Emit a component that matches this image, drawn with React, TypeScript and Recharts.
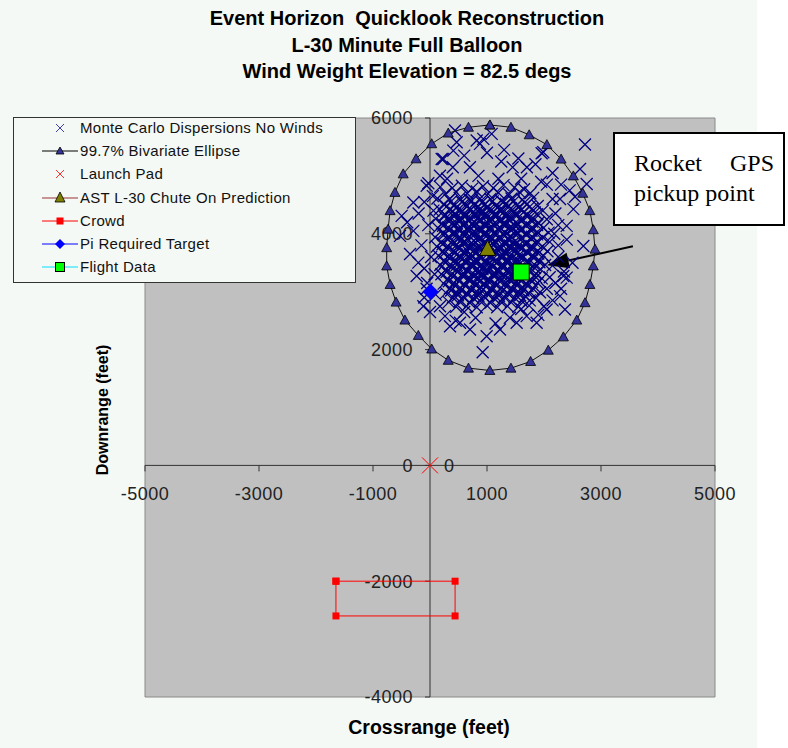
import React from "react";
import {
  ScatterChart,
  Scatter,
  XAxis,
  YAxis,
  CartesianGrid,
  ReferenceLine,
  ReferenceDot,
  ReferenceArea,
} from "recharts";

const titleLines = [
  "Event Horizon  Quicklook Reconstruction",
  "L-30 Minute Full Balloon",
  "Wind Weight Elevation = 82.5 degs",
];
const xTicks = [-5000, -3000, -1000, 1000, 3000, 5000];
const yTicks = [6000, 4000, 2000, 0, -2000, -4000];

// Monte Carlo impact points (feet)
const mcPoints: [number, number][] = [
  [180, 4810], [390, 4790], [560, 4830], [740, 4780], [930, 4820], [1110, 4790], [1290, 4840], [1480, 4800], [1650, 4770],
  [270, 4690], [460, 4720], [650, 4700], [820, 4730], [1020, 4690], [1200, 4710], [1390, 4680], [1570, 4720], [1760, 4700],
  [130, 4610], [340, 4590], [520, 4620], [700, 4580], [880, 4610], [1060, 4600], [1250, 4570], [1430, 4610], [1620, 4590], [1810, 4620],
  [240, 4510], [420, 4480], [600, 4520], [780, 4490], [960, 4510], [1150, 4480], [1330, 4520], [1520, 4490], [1700, 4510], [1890, 4480],
  [170, 4420], [350, 4430], [530, 4400], [690, 4440], [870, 4410], [1050, 4430], [1230, 4400], [1420, 4440], [1600, 4410], [1790, 4430], [1980, 4400],
  [260, 4330], [440, 4350], [620, 4320], [790, 4350], [970, 4330], [1150, 4350], [1330, 4320], [1510, 4350], [1700, 4330], [1880, 4340],
  [100, 4260], [330, 4270], [510, 4250], [700, 4280], [880, 4250], [1060, 4270], [1240, 4250], [1420, 4280], [1610, 4260], [1800, 4270], [2050, 4250],
  [210, 4180], [410, 4190], [600, 4170], [780, 4200], [960, 4170], [1140, 4190], [1320, 4180], [1510, 4200], [1700, 4170], [1900, 4190],
  [140, 4100], [320, 4110], [500, 4090], [680, 4120], [860, 4090], [1050, 4110], [1230, 4100], [1410, 4120], [1600, 4090], [1790, 4110], [1990, 4100],
  [240, 4020], [420, 4030], [600, 4010], [780, 4040], [960, 4010], [1140, 4030], [1320, 4020], [1500, 4040], [1690, 4010], [1880, 4030], [2080, 4020],
  [90, 3940], [330, 3950], [510, 3930], [690, 3960], [870, 3930], [1050, 3950], [1230, 3940], [1410, 3960], [1600, 3930], [1790, 3950], [1980, 3940],
  [200, 3860], [400, 3870], [590, 3850], [770, 3880], [950, 3850], [1130, 3870], [1310, 3860], [1500, 3880], [1690, 3850], [1880, 3870], [2100, 3860],
  [120, 3780], [310, 3790], [490, 3770], [680, 3800], [860, 3770], [1040, 3790], [1220, 3780], [1400, 3800], [1590, 3770], [1780, 3790], [1970, 3780],
  [230, 3700], [420, 3710], [600, 3690], [780, 3720], [960, 3690], [1140, 3710], [1320, 3700], [1510, 3720], [1700, 3690], [1890, 3710], [2060, 3700],
  [150, 3620], [340, 3630], [520, 3610], [700, 3640], [880, 3610], [1060, 3630], [1240, 3620], [1420, 3640], [1610, 3610], [1800, 3630], [1990, 3620],
  [250, 3540], [440, 3550], [620, 3530], [800, 3560], [980, 3530], [1160, 3550], [1340, 3540], [1530, 3560], [1720, 3530], [1910, 3550],
  [180, 3460], [360, 3470], [540, 3450], [720, 3480], [900, 3450], [1080, 3470], [1260, 3460], [1450, 3480], [1640, 3450], [1830, 3470], [2020, 3460],
  [280, 3380], [470, 3390], [650, 3370], [830, 3400], [1010, 3370], [1190, 3390], [1370, 3380], [1560, 3400], [1750, 3370], [1940, 3390],
  [200, 3300], [390, 3310], [570, 3290], [750, 3320], [930, 3290], [1110, 3310], [1290, 3300], [1480, 3320], [1670, 3290], [1860, 3310],
  [310, 3220], [490, 3230], [670, 3210], [850, 3240], [1030, 3210], [1210, 3230], [1390, 3220], [1580, 3240], [1770, 3210], [1960, 3230],
  [240, 3140], [420, 3150], [600, 3130], [780, 3160], [960, 3130], [1140, 3150], [1320, 3140], [1510, 3160], [1700, 3130], [1890, 3150],
  [350, 3060], [530, 3070], [710, 3050], [890, 3080], [1070, 3050], [1250, 3070], [1430, 3060], [1620, 3080], [1810, 3050],
  [280, 2980], [460, 2990], [640, 2970], [820, 3000], [1000, 2970], [1180, 2990], [1360, 2980], [1550, 3000], [1740, 2970], [1930, 2990],
  [400, 2900], [580, 2910], [760, 2890], [940, 2920], [1120, 2890], [1300, 2910], [1480, 2900], [1670, 2920], [1860, 2890],
  [330, 2820], [520, 2830], [700, 2810], [880, 2840], [1060, 2810], [1240, 2830], [1420, 2820], [1610, 2840],
  [460, 2740], [640, 2750], [820, 2730], [1000, 2760], [1180, 2730], [1360, 2750], [1550, 2740], [1740, 2760],
  // second, denser layer in the core
  [370, 4560], [560, 4550], [730, 4570], [910, 4540], [1100, 4560], [1280, 4540], [1470, 4560], [1660, 4540],
  [290, 4470], [470, 4460], [650, 4480], [830, 4450], [1010, 4470], [1190, 4460], [1370, 4480], [1560, 4460], [1750, 4470],
  [390, 4380], [570, 4390], [750, 4370], [930, 4390], [1110, 4380], [1290, 4370], [1470, 4390], [1650, 4380], [1840, 4370],
  [250, 4300], [420, 4300], [610, 4290], [790, 4310], [970, 4290], [1150, 4300], [1330, 4290], [1520, 4310], [1710, 4300],
  [340, 4220], [520, 4220], [690, 4230], [870, 4210], [1050, 4230], [1230, 4210], [1410, 4230], [1600, 4220], [1790, 4210],
  [230, 4140], [410, 4140], [590, 4150], [770, 4130], [950, 4150], [1130, 4140], [1320, 4150], [1500, 4130], [1690, 4140], [1880, 4150],
  [330, 4060], [510, 4060], [690, 4070], [870, 4050], [1050, 4070], [1230, 4050], [1410, 4070], [1590, 4060], [1780, 4050],
  [240, 3980], [420, 3990], [600, 3970], [780, 3990], [960, 3980], [1140, 3990], [1320, 3970], [1500, 3990], [1690, 3980], [1880, 3990],
  [310, 3900], [490, 3910], [680, 3890], [860, 3910], [1040, 3900], [1220, 3910], [1400, 3890], [1590, 3900], [1780, 3910],
  [220, 3820], [400, 3820], [580, 3830], [760, 3810], [940, 3830], [1120, 3810], [1310, 3830], [1490, 3820], [1680, 3810], [1870, 3830],
  [320, 3740], [510, 3740], [690, 3750], [870, 3730], [1050, 3750], [1230, 3730], [1410, 3750], [1600, 3740], [1790, 3730],
  [240, 3660], [430, 3670], [610, 3650], [790, 3670], [970, 3660], [1150, 3670], [1330, 3650], [1520, 3660], [1710, 3670], [1900, 3660],
  [340, 3580], [530, 3590], [710, 3570], [890, 3590], [1070, 3580], [1250, 3590], [1430, 3570], [1620, 3580], [1810, 3590],
  [270, 3500], [450, 3500], [630, 3510], [810, 3490], [990, 3510], [1170, 3490], [1350, 3510], [1540, 3500], [1730, 3490], [1920, 3510],
  [370, 3420], [560, 3420], [740, 3430], [920, 3410], [1100, 3430], [1280, 3410], [1460, 3430], [1650, 3420], [1840, 3410],
  [290, 3340], [480, 3340], [660, 3350], [840, 3330], [1020, 3350], [1200, 3330], [1380, 3350], [1570, 3340], [1760, 3330],
  [400, 3260], [580, 3260], [760, 3270], [940, 3250], [1120, 3270], [1300, 3250], [1480, 3270], [1670, 3260], [1860, 3250],
  [330, 3180], [510, 3180], [690, 3190], [870, 3170], [1050, 3190], [1230, 3170], [1410, 3190], [1600, 3180], [1790, 3170],
  [440, 3100], [620, 3100], [800, 3110], [980, 3090], [1160, 3110], [1340, 3090], [1520, 3110], [1710, 3100],
  [370, 3020], [550, 3020], [730, 3030], [910, 3010], [1090, 3030], [1270, 3010], [1450, 3030], [1640, 3020],
  [490, 2940], [670, 2950], [850, 2930], [1030, 2950], [1210, 2930], [1390, 2950], [1580, 2940],
  // extra crosses around the centre
  [560, 4260], [830, 4270], [1100, 4240], [1370, 4260], [640, 4080], [920, 4070], [1190, 4080], [1460, 4090],
  [560, 3910], [830, 3890], [1100, 3920], [1370, 3900], [640, 3720], [920, 3740], [1190, 3720], [1460, 3730],
  [560, 3560], [830, 3540], [1100, 3560], [1370, 3540], [640, 3380], [920, 3390], [1190, 3370], [1460, 3390],
  [720, 3210], [1000, 3200], [1270, 3220], [720, 4420], [1000, 4440], [1270, 4420],
  [470, 4180], [740, 4160], [1010, 4190], [1280, 4170], [1550, 4160], [470, 3990], [740, 4010], [1010, 3980],
  [1280, 4000], [1550, 4010], [470, 3810], [740, 3790], [1010, 3820], [1280, 3800], [1550, 3790], [470, 3640],
  [740, 3620], [1010, 3650], [1280, 3630], [1550, 3620], [470, 3460], [740, 3470], [1010, 3450], [1280, 3470],
  [1550, 3460], [600, 3300], [870, 3290], [1140, 3310], [1410, 3290], [600, 4340], [870, 4360], [1140, 4330],
  // sparse fringe
  [2719, 5541], [924, 1953], [1959, 5391], [2749, 4860], [2544, 4640], [2398, 4137], [2368, 2693], [2398, 3243],
  [439, 5783], [409, 5437], [234, 5293], [-29, 4872], [-292, 4542], [-497, 4310], [-292, 4050], [-234, 3270],
  [-526, 3964], [-205, 3502], [-117, 2750], [-58, 4830], [205, 5293], [175, 5004], [877, 5553], [935, 5640],
  [1082, 5726], [468, 5582], [819, 5610], [351, 2404], [526, 2463], [702, 2347], [994, 2231], [1228, 2347],
  [1520, 2463], [1871, 2463], [1696, 2578], [2047, 2693], [2281, 2924], [263, 2578], [175, 2750], [2515, 4426],
  [2690, 3790], [2339, 3270], [2632, 5120], [2281, 4600], [1988, 5409], [1300, 5450], [1550, 5300], [1700, 5150],
  [2150, 5050], [2300, 4850], [2200, 4350], [2400, 3900], [2250, 3600], [2500, 3500], [2300, 3050], [2150, 2850],
  [1900, 2600], [1400, 2550], [1150, 2450], [800, 2550], [600, 2650], [100, 2950], [-50, 3150], [-100, 3400],
  [-350, 3650], [-150, 3800], [-400, 4200], [-200, 4350], [-100, 4550], [50, 4650], [600, 5350], [1000, 5400],
  [1250, 5250], [1450, 5150], [400, 5150], [700, 5150], [1850, 5200], [2050, 4850], [2250, 4150], [2150, 3450],
  [2350, 3350], [2200, 3150], [2000, 2750], [1600, 2700], [450, 2500], [0, 2650], [-100, 2900], [2450, 4750],
  [-60, 3050], [80, 3300], [20, 3600], [-30, 4150], [60, 4400], [300, 4950], [850, 5000], [1200, 4950],
  [1600, 4950], [1950, 4900], [2150, 4600], [2180, 4000], [2250, 3800], [2100, 3250], [2050, 3050], [1750, 2850],
];

const ellipsePoints: [number, number][] = [
  [1050, 5880], [1420, 5840], [1740, 5710], [2050, 5540], [2300, 5290], [2515, 5000],
  [2680, 4700], [2805, 4400], [2865, 4070], [2895, 3735], [2865, 3445], [2805, 3125],
  [2720, 2810], [2575, 2510], [2340, 2220], [2075, 1990], [1765, 1795], [1420, 1680],
  [1050, 1640], [675, 1680], [320, 1815], [30, 2010], [-205, 2245], [-440, 2510],
  [-595, 2820], [-700, 3125], [-760, 3445], [-760, 3760], [-735, 4080], [-700, 4400],
  [-615, 4715], [-470, 5035], [-245, 5295], [30, 5555], [320, 5740], [675, 5840], [1050, 5880],
];
const launchPad: [number, number][] = [[0, 0]];
const astPrediction: [number, number][] = [[1010, 3730]];
const crowd: [number, number][] = [
  [-1650, -2000], [440, -2000], [440, -2600], [-1650, -2600], [-1650, -2000],
];
const piTarget: [number, number][] = [[10, 3000]];
const flightData: [number, number][] = [[1600, 3340]];
const arrowTail = { x: 3560, y: 3785 };
const arrowTip = { x: 2050, y: 3456 };

const rows = (pts: [number, number][]) => pts.map(([x, y]) => ({ x, y }));

const BG = "#f5f9f5";
const FONT = "'Liberation Sans', Arial, sans-serif";

const McCross = (p: any) => (
  <path
    d={`M${p.cx - 6},${p.cy - 6}L${p.cx + 6},${p.cy + 6}M${p.cx - 6},${p.cy + 6}L${p.cx + 6},${p.cy - 6}`}
    stroke="#000080"
    strokeWidth={1.3}
    fill="none"
  />
);
const SmallTri = (p: any) => (
  <polygon
    points={`${p.cx},${p.cy - 5} ${p.cx + 5},${p.cy + 4} ${p.cx - 5},${p.cy + 4}`}
    fill="#333399"
    stroke="#000"
    strokeWidth={0.8}
  />
);
const PadCross = (p: any) => (
  <g>
    <path
      d={`M${p.cx - 8},${p.cy - 8}L${p.cx + 8},${p.cy + 8}M${p.cx - 8},${p.cy + 8}L${p.cx + 8},${p.cy - 8}`}
      stroke="#ff0000"
      strokeWidth={1}
    />
    <text x={p.cx + 14} y={p.cy} dy="0.36em" fontSize={18} fontFamily={FONT} fill="#222" letterSpacing={0.5}>
      0
    </text>
  </g>
);
const BigTri = (p: any) => (
  <polygon
    points={`${p.cx},${p.cy - 9} ${p.cx + 8},${p.cy + 6} ${p.cx - 8},${p.cy + 6}`}
    fill="#808000"
    stroke="#000"
    strokeWidth={1}
  />
);
const RedSquare = (p: any) => (
  <rect x={p.cx - 3.5} y={p.cy - 3.5} width={7} height={7} fill="#ff0000" />
);
const Diamond = (p: any) => (
  <polygon
    points={`${p.cx},${p.cy - 8} ${p.cx + 8},${p.cy} ${p.cx},${p.cy + 8} ${p.cx - 8},${p.cy}`}
    fill="#0000ff"
  />
);
const GreenSquare = (p: any) => (
  <rect x={p.cx - 8} y={p.cy - 8} width={16} height={16} fill="#00ff00" stroke="#000" strokeWidth={1} />
);

const XTick = (label: number) => (p: any) => (
  <g>
    <line x1={p.cx} y1={p.cy} x2={p.cx} y2={p.cy + 6} stroke="#333" strokeWidth={1} />
    <text x={p.cx} y={p.cy + 28} dy="0.36em" textAnchor="middle" fontSize={18} fontFamily={FONT} fill="#222" letterSpacing={0.5}>
      {label}
    </text>
  </g>
);
const YTick = (label: number) => (p: any) => (
  <g>
    <line x1={p.cx - 5} y1={p.cy} x2={p.cx} y2={p.cy} stroke="#333" strokeWidth={1} />
    <text x={p.cx - 17} y={p.cy} dy="0.36em" textAnchor="end" fontSize={18} fontFamily={FONT} fill="#222" letterSpacing={0.5}>
      {label}
    </text>
  </g>
);
const Arrow = (p: any) => {
  const { x1, y1, x2, y2 } = p;
  // x1,y1 = tail ; x2,y2 = tip
  const dx = x2 - x1;
  const dy = y2 - y1;
  const len = Math.sqrt(dx * dx + dy * dy);
  const ux = dx / len;
  const uy = dy / len;
  const bx = x2 - ux * 22;
  const by = y2 - uy * 22;
  return (
    <g>
      <line x1={x1} y1={y1} x2={bx} y2={by} stroke="#000" strokeWidth={2} />
      <polygon
        points={`${x2},${y2} ${bx - uy * 8},${by + ux * 8} ${bx + uy * 8},${by - ux * 8}`}
        fill="#000"
      />
    </g>
  );
};

const legendItems = [
  { label: "Monte Carlo Dispersions No Winds", kind: "mc" },
  { label: "99.7% Bivariate Ellipse", kind: "ellipse" },
  { label: "Launch Pad", kind: "pad" },
  { label: "AST L-30 Chute On Prediction", kind: "ast" },
  { label: "Crowd", kind: "crowd" },
  { label: "Pi Required Target", kind: "pi" },
  { label: "Flight Data", kind: "flight" },
];

function LegendSymbol({ kind }: { kind: string }) {
  const c = 20;
  const m = 8;
  let line: string | null = null;
  let mark: React.ReactNode = null;
  if (kind === "mc") {
    mark = <path d={`M${c - 4},${m - 4}L${c + 4},${m + 4}M${c - 4},${m + 4}L${c + 4},${m - 4}`} stroke="#4040b0" strokeWidth={1} />;
  } else if (kind === "ellipse") {
    line = "#000";
    mark = <polygon points={`${c},${m - 4} ${c + 4},${m + 3} ${c - 4},${m + 3}`} fill="#333399" stroke="#000" strokeWidth={0.8} />;
  } else if (kind === "pad") {
    mark = <path d={`M${c - 4},${m - 4}L${c + 4},${m + 4}M${c - 4},${m + 4}L${c + 4},${m - 4}`} stroke="#ff3030" strokeWidth={1} />;
  } else if (kind === "ast") {
    line = "#993333";
    mark = <polygon points={`${c},${m - 6} ${c + 5},${m + 4} ${c - 5},${m + 4}`} fill="#808000" stroke="#000" strokeWidth={0.8} />;
  } else if (kind === "crowd") {
    line = "#ff0000";
    mark = <rect x={c - 3.5} y={m - 3.5} width={7} height={7} fill="#ff0000" />;
  } else if (kind === "pi") {
    line = "#0000ff";
    mark = <polygon points={`${c},${m - 5} ${c + 5},${m} ${c},${m + 5} ${c - 5},${m}`} fill="#0000ff" />;
  } else if (kind === "flight") {
    line = "#00e0ff";
    mark = <rect x={c - 4.5} y={m - 4.5} width={9} height={9} fill="#00ff00" stroke="#000" strokeWidth={1} />;
  }
  return (
    <svg width={40} height={16} style={{ position: "absolute", left: 26, top: -8 }}>
      {line && <line x1={2} y1={m} x2={38} y2={m} stroke={line} strokeWidth={1} />}
      {mark}
    </svg>
  );
}

export default function App() {
  return (
    <div style={{ position: "absolute", left: 0, top: 0, width: 788, height: 748, background: "#fff", overflow: "hidden" }}>
      <div style={{ position: "absolute", left: 0, top: 0, width: 757, height: 748, background: BG }} />

      {titleLines.map((t, i) => (
        <div
          key={t}
          style={{
            position: "absolute",
            left: 407,
            top: 18 + i * 26.5,
            transform: "translate(-50%, -50%)",
            whiteSpace: "pre",
            fontFamily: FONT,
            fontWeight: "bold",
            fontSize: 20,
            color: "#000",
          }}
        >
          {t}
        </div>
      ))}

      <div style={{ position: "absolute", left: 0, top: 0 }}>
        <ScatterChart width={788} height={748} margin={{ top: 118, left: 145, right: 73, bottom: 51 }}>
          <CartesianGrid fill="#c0c0c0" horizontal={false} vertical={false} />
          <XAxis type="number" dataKey="x" domain={[-5000, 5000]} allowDataOverflow hide />
          <YAxis type="number" dataKey="y" domain={[-4000, 6000]} allowDataOverflow hide />
          <ReferenceArea x1={-5000} x2={5000} y1={-4000} y2={6000} fill="none" fillOpacity={0} stroke="#8a8a8a" strokeWidth={1} />
          <ReferenceLine x={0} stroke="#333" strokeWidth={1} />
          <ReferenceLine y={0} stroke="#333" strokeWidth={1} />
          {xTicks.map((t) => (
            <ReferenceDot key={"x" + t} x={t} y={0} r={0} shape={XTick(t)} />
          ))}
          {yTicks.map((t) => (
            <ReferenceDot key={"y" + t} x={0} y={t} r={0} shape={YTick(t)} />
          ))}
          <Scatter name="Monte Carlo Dispersions No Winds" data={rows(mcPoints)} shape={McCross} isAnimationActive={false} />
          <Scatter
            name="99.7% Bivariate Ellipse"
            data={rows(ellipsePoints)}
            line={{ stroke: "#111", strokeWidth: 1 }}
            lineType="joint"
            shape={SmallTri}
            isAnimationActive={false}
          />
          <Scatter name="Launch Pad" data={rows(launchPad)} shape={PadCross} isAnimationActive={false} />
          <Scatter name="AST L-30 Chute On Prediction" data={rows(astPrediction)} shape={BigTri} isAnimationActive={false} />
          <Scatter
            name="Crowd"
            data={rows(crowd)}
            line={{ stroke: "#ff0000", strokeWidth: 1 }}
            lineType="joint"
            shape={RedSquare}
            isAnimationActive={false}
          />
          <Scatter name="Pi Required Target" data={rows(piTarget)} shape={Diamond} isAnimationActive={false} />
          <Scatter name="Flight Data" data={rows(flightData)} shape={GreenSquare} isAnimationActive={false} />
          <ReferenceLine segment={[arrowTail, arrowTip]} shape={Arrow} ifOverflow="visible" />
        </ScatterChart>
      </div>

      <div
        style={{
          position: "absolute",
          left: 13,
          top: 117,
          width: 341,
          height: 164,
          border: "1px solid #333",
          background: BG,
          fontFamily: FONT,
          fontSize: 15,
          letterSpacing: 0.3,
          color: "#111",
        }}
      >
        {legendItems.map((it, i) => (
          <div key={it.label} style={{ position: "absolute", left: 0, top: 10 + i * 23.2, height: 0 }}>
            <LegendSymbol kind={it.kind} />
            <div style={{ position: "absolute", left: 66, top: -9, whiteSpace: "nowrap", lineHeight: "18px" }}>{it.label}</div>
          </div>
        ))}
      </div>

      <div
        style={{
          position: "absolute",
          left: 613,
          top: 132,
          width: 172,
          height: 94,
          border: "2px solid #000",
          background: "#fff",
          fontFamily: "'Liberation Serif', 'Times New Roman', serif",
          fontSize: 24,
          lineHeight: "30px",
          color: "#000",
          boxSizing: "border-box",
          padding: "14px 0 0 19px",
        }}
      >
        <div style={{ display: "flex", justifyContent: "space-between", width: 140 }}>
          <span>Rocket</span>
          <span>GPS</span>
        </div>
        <div style={{ whiteSpace: "nowrap" }}>pickup point</div>
      </div>

      <div
        style={{
          position: "absolute",
          left: 429,
          top: 727,
          transform: "translate(-50%, -50%)",
          fontFamily: FONT,
          fontWeight: "bold",
          fontSize: 19.5,
          whiteSpace: "nowrap",
        }}
      >
        Crossrange (feet)
      </div>
      <div
        style={{
          position: "absolute",
          left: 103,
          top: 410,
          transform: "translate(-50%, -50%) rotate(-90deg)",
          fontFamily: FONT,
          fontWeight: "bold",
          fontSize: 16,
          whiteSpace: "nowrap",
        }}
      >
        Downrange (feet)
      </div>
    </div>
  );
}
